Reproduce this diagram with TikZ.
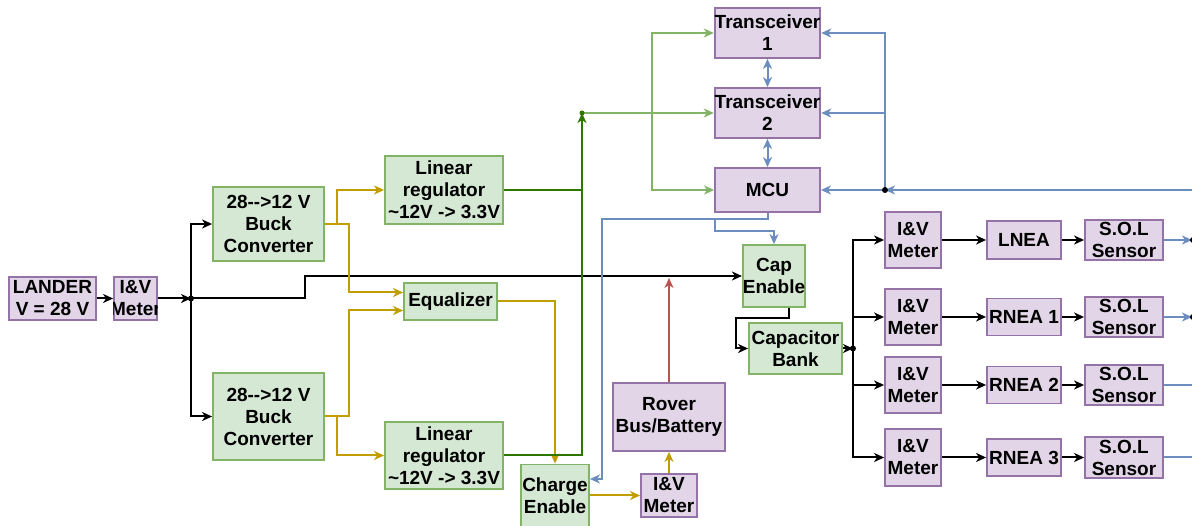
\documentclass[tikz,border=0pt]{standalone}
\usepackage{fontspec}
\setmainfont{Liberation Sans}
\usetikzlibrary{arrows.meta,calc}
\definecolor{pfill}{HTML}{E1D5E7}
\definecolor{pdraw}{HTML}{9673A6}
\definecolor{gfill}{HTML}{D5E8D4}
\definecolor{gdraw}{HTML}{82B366}
\definecolor{gold}{RGB}{193,158,0}
\definecolor{dgreen}{HTML}{2D7600}
\definecolor{lgreen}{HTML}{82B366}
\definecolor{blu}{HTML}{6C8EBF}
\definecolor{rd}{HTML}{B85450}
\tikzset{
  box/.style={line width=1.8pt, inner sep=0pt, align=center,
    font=\fontsize{19}{22}\selectfont\bfseries},
  pbox/.style={box, draw=pdraw, fill=pfill},
  gbox/.style={box, draw=gdraw, fill=gfill},
  wire/.style={line width=2pt, line join=miter},
  arr/.style={-{Stealth[length=10pt,width=9pt,inset=3pt]}},
  darr/.style={{Stealth[length=10pt,width=9pt,inset=3pt]}-{Stealth[length=10pt,width=9pt,inset=3pt]}},
  blk/.style={wire, draw=black},
  gld/.style={wire, draw=gold},
  dgr/.style={wire, draw=dgreen},
  lgr/.style={wire, draw=lgreen},
  bl/.style={wire, draw=blu},
  red/.style={wire, draw=rd},
  jdot/.style={circle, inner sep=0pt, minimum size=6pt},
}
\begin{document}
\begin{tikzpicture}[x=1pt,y=-1pt]
\useasboundingbox (0,0) rectangle (1192,526);

% left chain
\node[pbox, minimum width=87pt, minimum height=43pt] (lander) at (52.5,298.5) {LANDER\\V = 28 V};
\node[pbox, minimum width=43pt, minimum height=43pt] (ivl) at (135.5,298.5) {};
\begin{scope}
\clip (ivl.south west) rectangle (ivl.north east);
\node[box] (ivltext) at (ivl.center) {I\&V\\Meter};
\end{scope}

\node[gbox, minimum width=111pt, minimum height=74pt] (buck1) at (268.5,224) {28-{}->12 V\\Buck\\Converter};
\node[gbox, minimum width=111pt, minimum height=87pt] (buck2) at (268.5,416.5) {28-{}->12 V\\Buck\\Converter};
\node[gbox, minimum width=118pt, minimum height=68pt] (lin1) at (444,190) {Linear\\regulator\\\textasciitilde12V -> 3.3V};
\node[gbox, minimum width=93pt, minimum height=37pt] (eq) at (450.5,301.5) {Equalizer};
\node[gbox, minimum width=118pt, minimum height=67pt] (lin2) at (444,455.5) {Linear\\regulator\\\textasciitilde12V -> 3.3V};
\node[gbox, minimum width=68pt, minimum height=62pt] (charge) at (555,495.5) {Charge\\Enable};
\node[pbox, minimum width=56pt, minimum height=43pt] (ivb) at (669,495.5) {I\&V\\Meter};
\node[pbox, minimum width=112pt, minimum height=68pt] (rover) at (669,417) {Rover\\Bus/Battery};
\node[gbox, minimum width=62pt, minimum height=62pt] (cap) at (774,276) {Cap\\Enable};
\node[gbox, minimum width=93pt, minimum height=51pt] (capbank) at (795.5,348.5) {Capacitor\\Bank};

\node[pbox, minimum width=105pt, minimum height=50pt] (t1) at (767.5,33) {Transceiver\\1};
\node[pbox, minimum width=105pt, minimum height=50pt] (t2) at (767.5,113) {Transceiver\\2};
\node[pbox, minimum width=105pt, minimum height=44pt] (mcu) at (767.5,190) {MCU};

% right column
\node[pbox, minimum width=56pt, minimum height=56pt] (iv1) at (913,240) {I\&V\\Meter};
\node[pbox, minimum width=56pt, minimum height=56pt] (iv2) at (913,317) {I\&V\\Meter};
\node[pbox, minimum width=56pt, minimum height=56pt] (iv3) at (913,385) {I\&V\\Meter};
\node[pbox, minimum width=56pt, minimum height=57pt] (iv4) at (913,457.5) {I\&V\\Meter};
\node[pbox, minimum width=74pt, minimum height=38pt] (lnea) at (1024,240) {LNEA};
\node[pbox, minimum width=74pt, minimum height=37pt] (rnea1) at (1024,317) {RNEA 1};
\node[pbox, minimum width=74pt, minimum height=37pt] (rnea2) at (1024,385) {RNEA 2};
\node[pbox, minimum width=74pt, minimum height=37pt] (rnea3) at (1024,457.5) {RNEA 3};
\node[pbox, minimum width=78pt, minimum height=40pt] (sol1) at (1124,240) {S.O.L\\Sensor};
\node[pbox, minimum width=78pt, minimum height=40pt] (sol2) at (1124,317) {S.O.L\\Sensor};
\node[pbox, minimum width=78pt, minimum height=40pt] (sol3) at (1124,385) {S.O.L\\Sensor};
\node[pbox, minimum width=78pt, minimum height=41pt] (sol4) at (1124,457.5) {S.O.L\\Sensor};

% junctions
\coordinate (j1) at (191,298.5);
\coordinate (j2) at (853,348.5);
\coordinate (gdot) at (582,113);
\coordinate (bdot) at (885,190);
\coordinate (bR) at (1194,190);
\coordinate (sR1) at (1192,240);
\coordinate (sR2) at (1192,317);
\coordinate (sR3) at (1194,385);
\coordinate (sR4) at (1194,457.5);
\coordinate (redend) at (669,278);

% black wiring
\draw[blk,arr] (lander) -- (ivl);
\draw[blk,arr] (ivl) -- (j1);
\draw[blk,arr] (j1) |- (buck1.west);
\draw[blk,arr] (j1) |- (buck2.west);
\draw[blk,arr] (j1) -- ++(114,0) |- (cap.west);
\draw[blk,arr] ([xshift=15pt]cap.south) -- ++(0,10) -| ($(capbank.west)+(-12,0)$) -- (capbank.west);
\draw[blk,arr] (capbank.east) -- (j2);
\draw[blk,arr] (j2) |- (iv1.west);
\draw[blk,arr] (j2) |- (iv2.west);
\draw[blk,arr] (j2) |- (iv3.west);
\draw[blk,arr] (j2) |- (iv4.west);
\draw[blk,arr] (iv1) -- (lnea);
\draw[blk,arr] (iv2) -- (rnea1);
\draw[blk,arr] (iv3) -- (rnea2);
\draw[blk,arr] (iv4) -- (rnea3);
\draw[blk,arr] (lnea) -- (sol1);
\draw[blk,arr] (rnea1) -- (sol2);
\draw[blk,arr] (rnea2) -- (sol3);
\draw[blk,arr] (rnea3) -- (sol4);
\node[jdot, fill=black] (j1dot) at (j1) {};
\node[jdot, fill=black] (j2dot) at (j2) {};

% gold wiring
\draw[gld,arr] (buck1.east) -- ++(12,0) |- (lin1.west);
\draw[gld,arr] (buck1.east) -- ++(24,0) |- ($(eq.west)+(0,-9)$);
\draw[gld,arr] (buck2.east) -- ++(24,0) |- ($(eq.west)+(0,9)$);
\draw[gld,arr] (buck2.east) -- ++(12,0) |- (lin2.west);
\draw[gld,arr] (eq.east) -| (charge.north);
\draw[gld,arr] (charge.east) -- (ivb.west);
\draw[gld,arr] (ivb.north) -- (rover.south);

% red
\draw[red,arr] (rover.north) -- (redend);

% dark green
\draw[dgr] (lin1.east) -- (lin1.east -| gdot);
\draw[dgr,arr] (lin2.east) -| (gdot);

% light green
\draw[lgr,arr] (gdot) -- (t2.west);
\draw[lgr,arr] (gdot) -- ++(70,0) |- (t1.west);
\draw[lgr,arr] (gdot) -- ++(70,0) |- (mcu.west);
\node[jdot, fill=dgreen, minimum size=5pt] (gdotn) at (gdot) {};

% blue
\draw[bl,darr] (t1.south) -- (t2.north);
\draw[bl,darr] (t2.south) -- (mcu.north);
\draw[bl,arr] (bR) -- (bdot);
\draw[bl,arr] (bdot) -- (mcu.east);
\draw[bl,arr] (bdot) |- (t2.east);
\draw[bl,arr] (bdot) |- (t1.east);
\node[jdot, fill=black] (bdotn) at (bdot) {};
\draw[bl,arr] (mcu.south) -- ++(0,6) -| ($(charge.east)+(12,-16.5)$) -- ($(charge.east)+(0,-16.5)$);
\draw[bl,arr] (mcu.south) -- ++(0,6) -- ++(-52.5,0) -- ++(0,12) -| (cap.north);
\draw[bl,arr] (sol1.east) -- (sR1);
\draw[bl,arr] (sol2.east) -- (sR2);
\draw[bl] (sol3.east) -- (sR3);
\draw[bl] (sol4.east) -- (sR4);
\node[jdot, fill=black] (sd1) at (1193,240) {};
\node[jdot, fill=black] (sd2) at (1193,317) {};
\end{tikzpicture}
\end{document}
